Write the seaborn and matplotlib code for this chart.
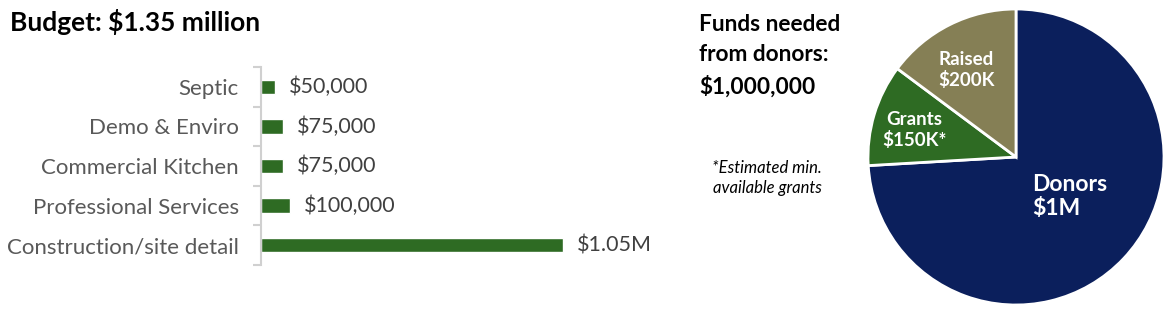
import matplotlib
matplotlib.use("Agg")
import matplotlib.pyplot as plt
import seaborn as sns
import numpy as np
import pandas as pd

# ---- data ----
categories = ["Septic", "Demo & Enviro", "Commercial Kitchen",
              "Professional Services", "Construction/site detail"]
costs = [50000, 75000, 75000, 100000, 1050000]
cost_labels = ["$50,000", "$75,000", "$75,000", "$100,000", "$1.05M"]

pie_names = ["Donors", "Grants", "Raised"]
pie_values = [1000000, 150000, 200000]
pie_labels = ["Donors\n$1M", "Grants\n$150K*", "Raised\n$200K"]

GREEN = "#2E6B23"
NAVY = "#0B1F5C"
OLIVE = "#857F55"

sns.set_theme(style="white")
plt.rcParams["font.family"] = ["Lato", "DejaVu Sans"]

W, H = 1174, 316
fig = plt.figure(figsize=(W / 100, H / 100), dpi=100)

# ---- bar chart ----
ax = fig.add_axes([261 / W, (H - 265) / H, 400 / W, 198 / H])
df = pd.DataFrame({"cat": categories, "cost": costs})
sns.barplot(data=df, x="cost", y="cat", orient="h", color=GREEN,
            saturation=1, width=0.36, ax=ax)
ax.set_xlim(0, 1050000 * 400 / 302)
ax.set_ylim(4.5, -0.5)
ax.set_xlabel("")
ax.set_ylabel("")
ax.set_xticks([])
for s in ["top", "right", "bottom"]:
    ax.spines[s].set_visible(False)
ax.spines["left"].set_color("#D0D0D0")
ax.spines["left"].set_linewidth(1.5)
ax.tick_params(axis="y", which="major", length=0, pad=16, labelsize=16,
               labelcolor="#595959")
ax.set_yticks(np.arange(-0.5, len(categories), 1.0), minor=True)
ax.tick_params(axis="y", which="minor", length=6, width=1.5, color="#D0D0D0",
               left=True)
ax.bar_label(ax.containers[0], labels=cost_labels, padding=10, fontsize=15.5,
             color="#404040")

fig.text(10 / W, 1 - 22 / H, "Budget: $1.35 million", fontsize=19,
         fontweight="bold", color="black", va="center", ha="left")

# ---- pie chart ----
pax = fig.add_axes([868 / W, 11 / H, 296 / W, 296 / H])
wedges, _ = pax.pie(pie_values, colors=[NAVY, GREEN, OLIVE], startangle=90,
                    counterclock=False,
                    wedgeprops=dict(edgecolor="white", linewidth=2))
pax.set_xlim(-1, 1)
pax.set_ylim(-1, 1)
pax.set_aspect("equal")
pax.axis("off")

label_dist = [0.45, 0.71, 0.68]
label_shift = [7, 2, 3]
label_size = [16.5, 13.5, 13.5]
for w, lab, d, sh, fs in zip(wedges, pie_labels, label_dist, label_shift,
                             label_size):
    ang = np.deg2rad((w.theta1 + w.theta2) / 2 + sh)
    pax.text(d * np.cos(ang), d * np.sin(ang), lab, ha="center", va="center",
             multialignment="left" if lab.startswith("Donors") else "center",
             color="white", fontsize=fs, fontweight="bold", linespacing=1.2)

fig.text(699 / W, 1 - 56 / H, "Funds needed\nfrom donors:\n$1,000,000",
         fontsize=16.3, fontweight="bold", color="black", va="center",
         ha="left", linespacing=1.55)
fig.text(767 / W, 1 - 178 / H, "*Estimated min.\navailable grants",
         fontsize=12, style="italic", color="black", va="center",
         ha="center", linespacing=1.3)

fig.savefig("out.png", dpi=100)
